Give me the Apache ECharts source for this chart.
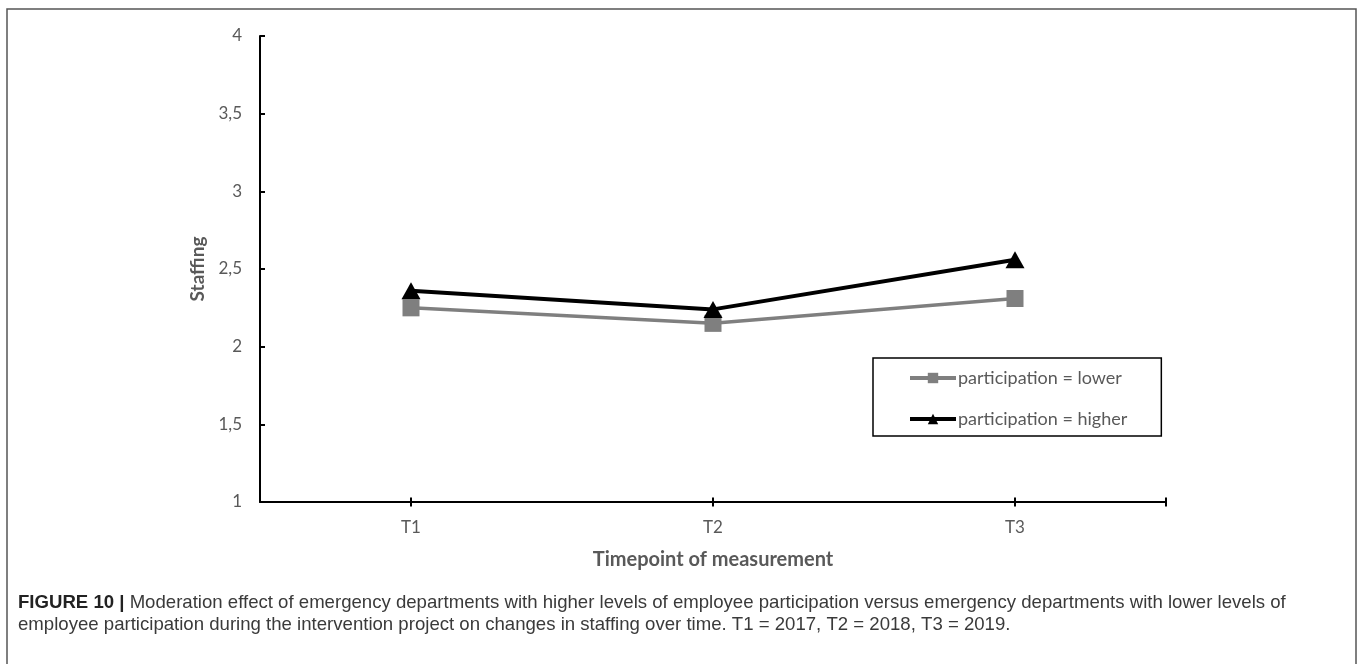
<!DOCTYPE html>
<html>
<head>
<meta charset="utf-8">
<script src="https://cdn.jsdelivr.net/npm/echarts@6/dist/echarts.min.js"></script>
<style>
html,body{margin:0;padding:0;background:#fff;}
#chart{width:1358px;height:664px;}
</style>
</head>
<body>
<div id="chart"></div>
<script>
const categories = ['T1', 'T2', 'T3'];
const lowerValues = [2.25, 2.15, 2.31];
const higherValues = [2.36, 2.24, 2.56];
const seriesNames = ['participation = lower', 'participation = higher'];
const yTicks = [1, 1.5, 2, 2.5, 3, 3.5, 4];
const captionBold = 'FIGURE 10 |';
const captionLine1 = ' Moderation effect of emergency departments with higher levels of employee participation versus emergency departments with lower levels of';
const captionLine2 = 'employee participation during the intervention project on changes in staffing over time. T1 = 2017, T2 = 2018, T3 = 2019.';

const chart = echarts.init(document.getElementById('chart'), null, {renderer: 'canvas'});
const labelFont = 'Lato, "Open Sans", sans-serif';
const capFont = '"Liberation Sans", Arial, sans-serif';
const option = {
  animation: false,
  backgroundColor: '#fff',
  grid: {left: 260, right: 192, top: 36, bottom: 162, containLabel: false},
  title: {
    left: 13, top: 587,
    text: '{b|' + captionBold + '}{r|' + captionLine1 + '}\n{r|' + captionLine2 + '}',
    textStyle: {
      fontWeight: 'normal',
      rich: {
        b: {fontFamily: capFont, fontWeight: 'bold', fontSize: 18.6, color: '#222', lineHeight: 22},
        r: {fontFamily: capFont, fontWeight: 'normal', fontSize: 18.6, color: '#3a3a3a', lineHeight: 22}
      }
    }
  },
  graphic: [{
    type: 'rect', silent: true, z: -1,
    shape: {x: 7, y: 9, width: 1349, height: 670},
    style: {fill: 'none', stroke: '#555', lineWidth: 1.5}
  }],
  legend: {
    orient: 'vertical', left: 873, top: 358,
    padding: [10, 34, 7, 35],
    itemGap: 21, itemWidth: 46, itemHeight: 13,
    borderColor: '#000', borderWidth: 1.5,
    lineStyle: {width: 4},
    textStyle: {fontFamily: labelFont, fontSize: 18, color: '#595959', lineHeight: 20, padding: [0, 0, 0, -3]},
    data: seriesNames
  },
  xAxis: [{
    type: 'category', data: categories, boundaryGap: true,
    name: 'Timepoint of measurement', nameLocation: 'middle', nameGap: 48,
    nameTextStyle: {fontFamily: labelFont, fontWeight: 'bold', fontSize: 20, color: '#595959'},
    axisLine: {lineStyle: {color: '#000', width: 2}},
    axisTick: {show: false},
    axisLabel: {fontFamily: labelFont, fontSize: 17, color: '#595959', margin: 17},
    splitLine: {show: false}
  }, {
    type: 'value', min: 0, max: 3, position: 'bottom', offset: -4.5,
    axisLine: {show: false},
    axisLabel: {show: false},
    axisTick: {show: true, length: 9, inside: false, customValues: [0.5, 1.5, 2.5, 3], lineStyle: {color: '#000', width: 2}},
    splitLine: {show: false}
  }],
  yAxis: {
    type: 'value', min: 1, max: 4, interval: 0.5,
    name: 'Staffing', nameLocation: 'middle', nameGap: 46, nameRotate: 90,
    nameTextStyle: {fontFamily: labelFont, fontWeight: 'bold', fontSize: 19, color: '#595959'},
    axisLine: {show: true, lineStyle: {color: '#000', width: 2}},
    axisTick: {show: true, inside: true, length: 5, lineStyle: {color: '#000', width: 2}},
    axisLabel: {fontFamily: labelFont, fontSize: 17, color: '#595959', margin: 18,
      formatter: v => yTicks.includes(v) ? String(v).replace('.', ',') : ''},
    splitLine: {show: false}
  },
  series: [{
    name: seriesNames[0], type: 'line', data: lowerValues,
    symbol: 'rect', symbolSize: 17,
    itemStyle: {color: '#7f7f7f'},
    lineStyle: {color: '#7f7f7f', width: 3.5},
    z: 2
  }, {
    name: seriesNames[1], type: 'line', data: higherValues,
    symbol: 'triangle', symbolSize: [19, 17],
    itemStyle: {color: '#000'},
    lineStyle: {color: '#000', width: 4},
    z: 3
  }]
};
chart.setOption(option);
</script>
</body>
</html>
